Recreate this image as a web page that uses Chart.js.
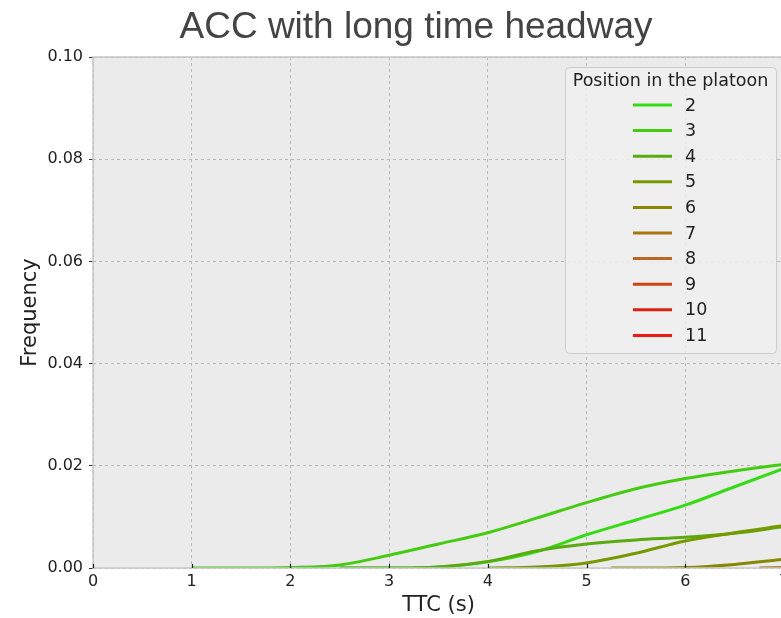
<!DOCTYPE html>
<html>
<head>
<meta charset="utf-8">
<script src="https://cdn.jsdelivr.net/npm/chart.js@4/dist/chart.umd.min.js"></script>
<style>
  html, body { margin: 0; padding: 0; background: #ffffff; overflow: hidden; width: 781px; height: 618px; }
  canvas { display: block; }
</style>
</head>
<body>
<canvas id="chart" width="832" height="618"></canvas>
<script>
// ─── Data ───────────────────────────────────────────────────────────────────

const positions = ['2', '3', '4', '5', '6', '7', '8', '9', '10', '11'];
const lineColors = ['#33dd11', '#44cc11', '#5aaa11', '#779900', '#888800',
                    '#aa7711', '#bb6622', '#cc4411', '#dd2211', '#ee1a11'];

const ttc2 = [2.5, 3, 3.5, 4, 4.5, 5, 5.5, 6, 6.5, 7];
const freq2 = [0, 0, 0.0002, 0.0012, 0.0032, 0.0065, 0.0094, 0.0123, 0.0159, 0.0195];

const ttc3 = [1, 1.5, 2, 2.5, 3, 3.5, 4, 4.5, 5, 5.5, 6, 6.5, 7];
const freq3 = [0, 0, 0.0001, 0.0006, 0.0025, 0.0047, 0.0069, 0.0098, 0.0128, 0.0155, 0.0175, 0.019, 0.0203];

const ttc4 = [2.5, 3, 3.5, 4, 4.5, 5, 5.5, 6, 6.5, 7];
const freq4 = [0, 0, 0.0002, 0.0013, 0.0034, 0.0047, 0.0055, 0.006, 0.0068, 0.0081];

const ttc5 = [4, 4.5, 5, 5.5, 6, 6.5, 7];
const freq5 = [0, 0.0002, 0.001, 0.0029, 0.0053, 0.0069, 0.0083];

const ttc6 = [5.25, 5.5, 6, 6.5, 7];
const freq6 = [0, 0, 0.0001, 0.0007, 0.0017];

const ttc7 = [6.75, 7];
const freq7 = [0, 0.0001];

// positions 8-11 have no density inside the visible TTC range
const ttcSeries = [ttc2, ttc3, ttc4, ttc5, ttc6, ttc7, [], [], [], []];
const freqSeries = [freq2, freq3, freq4, freq5, freq6, freq7, [], [], [], []];

const yTicks = [0, 0.02, 0.04, 0.06, 0.08, 0.10];

// ─── Plugins ────────────────────────────────────────────────────────────────

const plotBackground = {
  id: 'plotBackground',
  beforeDraw(chart) {
    const { ctx, chartArea: a } = chart;
    ctx.save();
    ctx.fillStyle = '#ebebeb';
    ctx.fillRect(a.left, a.top, a.right - a.left, a.bottom - a.top);
    ctx.restore();
  },
  afterDraw(chart) {
    const { ctx, chartArea: a } = chart;
    ctx.save();
    ctx.strokeStyle = '#c8c8c8';
    ctx.lineWidth = 1.5;
    ctx.strokeRect(a.left, a.top, a.right - a.left, a.bottom - a.top);

    // small inward tick marks on the x axis, as in the original
    const xs = chart.scales.x;
    ctx.strokeStyle = '#222222';
    ctx.lineWidth = 1.2;
    xs.ticks.forEach(t => {
      const px = Math.round(xs.getPixelForValue(t.value)) + 0.5;
      ctx.beginPath();
      ctx.moveTo(px, a.bottom);
      ctx.lineTo(px, a.bottom - 4);
      ctx.stroke();
    });

    ctx.fillStyle = '#444444';
    ctx.font = '37px "Liberation Sans", Arial, sans-serif';
    ctx.textAlign = 'center';
    ctx.textBaseline = 'alphabetic';
    ctx.fillText('ACC with long time headway', 416, 38);
    ctx.restore();
  },
};

const insideLegend = {
  id: 'insideLegend',
  afterDatasetsDraw(chart) {
    const { ctx, chartArea: a } = chart;
    const sets = chart.data.datasets;
    const boxW = 211, boxH = 286;
    const x0 = a.right - 8 - boxW;
    const y0 = a.top + 10;
    ctx.save();
    ctx.fillStyle = 'rgba(240,240,240,0.85)';
    ctx.strokeStyle = '#cccccc';
    ctx.lineWidth = 1;
    ctx.beginPath();
    ctx.roundRect(x0 + 0.5, y0 + 0.5, boxW, boxH, 4);
    ctx.fill();
    ctx.stroke();

    ctx.fillStyle = '#222222';
    ctx.font = '17.5px "DejaVu Sans", sans-serif';
    ctx.textAlign = 'center';
    ctx.textBaseline = 'middle';
    ctx.fillText('Position in the platoon', x0 + boxW / 2, y0 + 14);

    ctx.textAlign = 'left';
    sets.forEach((ds, i) => {
      const y = y0 + 38 + i * 25.6;
      ctx.strokeStyle = ds.borderColor;
      ctx.lineWidth = 3;
      ctx.beginPath();
      ctx.moveTo(x0 + 68, y);
      ctx.lineTo(x0 + 107, y);
      ctx.stroke();
      ctx.fillStyle = '#222222';
      ctx.fillText(ds.label, x0 + 120, y + 1);
    });
    ctx.restore();
  },
};

// ─── Chart ──────────────────────────────────────────────────────────────────

const datasets = positions.map((p, i) => ({
  label: p,
  data: ttcSeries[i].map((x, j) => ({ x, y: freqSeries[i][j] })),
  borderColor: lineColors[i],
  backgroundColor: lineColors[i],
  borderWidth: 3,
  pointRadius: 0,
  cubicInterpolationMode: 'monotone',
  fill: false,
  order: positions.length - i,
}));

const tickFont = { family: '"DejaVu Sans", sans-serif', size: 16 };
const titleFont = { family: '"DejaVu Sans", sans-serif', size: 21 };

new Chart(document.getElementById('chart').getContext('2d'), {
  type: 'line',
  data: { datasets },
  plugins: [plotBackground, insideLegend],
  options: {
    animation: false,
    responsive: false,
    layout: { padding: { left: 0, right: 48, top: 57, bottom: 0 } },
    plugins: {
      legend: { display: false },
      title: { display: false },
      tooltip: { enabled: false },
    },
    scales: {
      x: {
        type: 'linear',
        min: 0,
        max: 7,
        afterFit(scale) { scale.height = 50; },
        grid: { color: '#b8b8b8', lineWidth: 1, drawTicks: false },
        border: { display: false, dash: [3, 3] },
        ticks: { stepSize: 1, color: '#222222', font: tickFont, padding: 4 },
        title: { display: true, text: 'TTC (s)', color: '#222222', font: titleFont, padding: { top: 0, bottom: 0 } },
      },
      y: {
        type: 'linear',
        min: 0,
        max: 0.1,
        afterFit(scale) { scale.width = 93; },
        afterBuildTicks(scale) { scale.ticks = yTicks.map(v => ({ value: v })); },
        grid: { color: '#b8b8b8', lineWidth: 1, tickLength: 4, tickColor: '#333333' },
        border: { display: false, dash: [3, 3] },
        ticks: { color: '#222222', font: tickFont, padding: 6, callback: v => v.toFixed(2) },
        title: { display: true, text: 'Frequency', color: '#222222', font: titleFont, padding: { top: 18, bottom: 0 } },
      },
    },
  },
});
</script>
</body>
</html>
